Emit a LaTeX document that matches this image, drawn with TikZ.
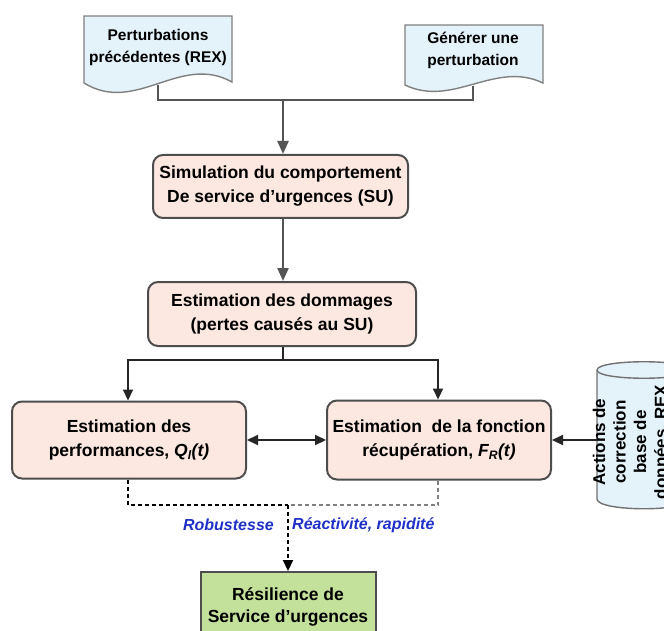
\documentclass[tikz,border=0pt]{standalone}
\usepackage{fontspec}
\setmainfont{Liberation Sans}
\usetikzlibrary{arrows.meta}
\definecolor{boxfill}{HTML}{FCE8E0}
\definecolor{docfill}{HTML}{E4F2FA}
\definecolor{greenfill}{HTML}{C4E19B}
\definecolor{edge}{HTML}{4D4D4D}
\definecolor{lbl}{HTML}{1F2FC8}
\definecolor{dgray}{HTML}{555555}
\begin{document}
\begin{tikzpicture}[x=1pt,y=-1pt,
  procbox/.style={draw=edge, line width=2pt, fill=boxfill, rounded corners=10pt,
    align=center, inner sep=2pt, font=\bfseries\fontsize{17.5}{24}\selectfont},
  resbox/.style={draw=edge, line width=2pt, fill=greenfill,
    align=center, inner sep=2pt, font=\bfseries\fontsize{17.5}{22}\selectfont},
  docshape/.style={draw=gray, line width=1.4pt, fill=docfill},
  doctext/.style={align=center, inner sep=0pt, font=\bfseries\fontsize{15.5}{22}\selectfont},
  cyltext/.style={align=center, inner sep=0pt, rotate=90, font=\bfseries\fontsize{17}{20.5}\selectfont},
  conn/.style={draw=dgray, line width=2.4pt},
  conna/.style={conn, -{Triangle[length=13pt,width=11pt]}},
  blk/.style={draw=black!85, line width=2.2pt},
  blka/.style={blk, -{Triangle[length=11pt,width=10pt]}},
  blkaa/.style={blk, {Triangle[length=11pt,width=10pt]}-{Triangle[length=11pt,width=10pt]}},
  dsh/.style={line width=2.2pt, dash pattern=on 4pt off 3pt},
  lab/.style={text=lbl, font=\bfseries\itshape\fontsize{16}{18}\selectfont, inner sep=0pt}
]
\useasboundingbox (0,0) rectangle (664,631);
\clip (0,0) rectangle (664,631);

% document shapes
\draw[docshape] (84,16) -- (232,16) -- (232,82)
  .. controls (180,53) and (136,115) .. (84,83) -- cycle;
\node[doctext] (d1) at (158,47) {Perturbations\\précédentes (REX)};
\draw[docshape] (405,25) -- (543,25) -- (543,83)
  .. controls (495,60) and (453,108) .. (405,85) -- cycle;
\node[doctext] (d2) at (473,50) {Générer une\\perturbation};

\coordinate (d1b) at (158,85);
\coordinate (d2b) at (473,86);
\coordinate (j1) at (283,100);

% process boxes
\node[procbox, minimum width=255pt, minimum height=63pt] (sim) at (280.5,186.5)
  {Simulation du comportement\\De service d’urgences (SU)};
\node[procbox, minimum width=268pt, minimum height=64pt] (dom) at (282,314)
  {Estimation des dommages\\(pertes causés au SU)};
\node[procbox, minimum width=234pt, minimum height=77pt] (perf) at (129,440)
  {Estimation des\\performances, {\itshape Q\textsubscript{l}(t)}};
\node[procbox, minimum width=224pt, minimum height=79pt] (fon) at (439,440)
  {Estimation\ \ de la fonction\\récupération, {\itshape F\textsubscript{R}(t)}};

% cylinder
\draw[docshape, draw=edge!80] (597,370) -- (597,499)
  .. controls (597,512) and (691,512) .. (691,499) -- (691,370)
  .. controls (691,359) and (597,359) .. (597,370) -- cycle;
\draw[draw=edge!80, line width=1.4pt] (597,370) .. controls (597,381) and (691,381) .. (691,370);
\node[cyltext] (cyl) at (631,442) {Actions de\\correction\\base de\\données, REX};
\coordinate (cylw) at (597,440);

% result box
\node[resbox, minimum width=175pt, minimum height=70pt] (res) at (288,607)
  {Résilience de\\Service d’urgences};

% connectors
\draw[conn] (d1b) |- (j1);
\draw[conn] (d2b) |- (j1);
\draw[conna] (j1) -- (sim.north -| j1);
\draw[conna] (sim.south -| j1) -- (dom.north -| j1);
\coordinate (j2) at (283,360);
\coordinate (j2l) at (128,360);
\coordinate (j2r) at (438,360);
\draw[blk] (dom.south -| j2) -- (j2);
\draw[blka] (j2) -| (perf.north -| j2l);
\draw[blka] (j2) -| (fon.north -| j2r);
\draw[blkaa] (perf.east) -- (fon.west);
\draw[blka] (cylw) -- (fon.east);

% dashed
\coordinate (j3) at (288,505);
\draw[dsh, black] (perf.south -| j2l) |- (j3);
\draw[dsh, gray] (fon.south -| j2r) |- (j3);
\draw[dsh, black, -{Triangle[length=11pt,width=10pt]}] (j3) -- (res.north -| j3);

\node[lab, anchor=east] (rob) at (274,525) {Robustesse};
\node[lab, anchor=west] (rea) at (292,525) {Réactivité, rapidité};
\end{tikzpicture}
\end{document}
